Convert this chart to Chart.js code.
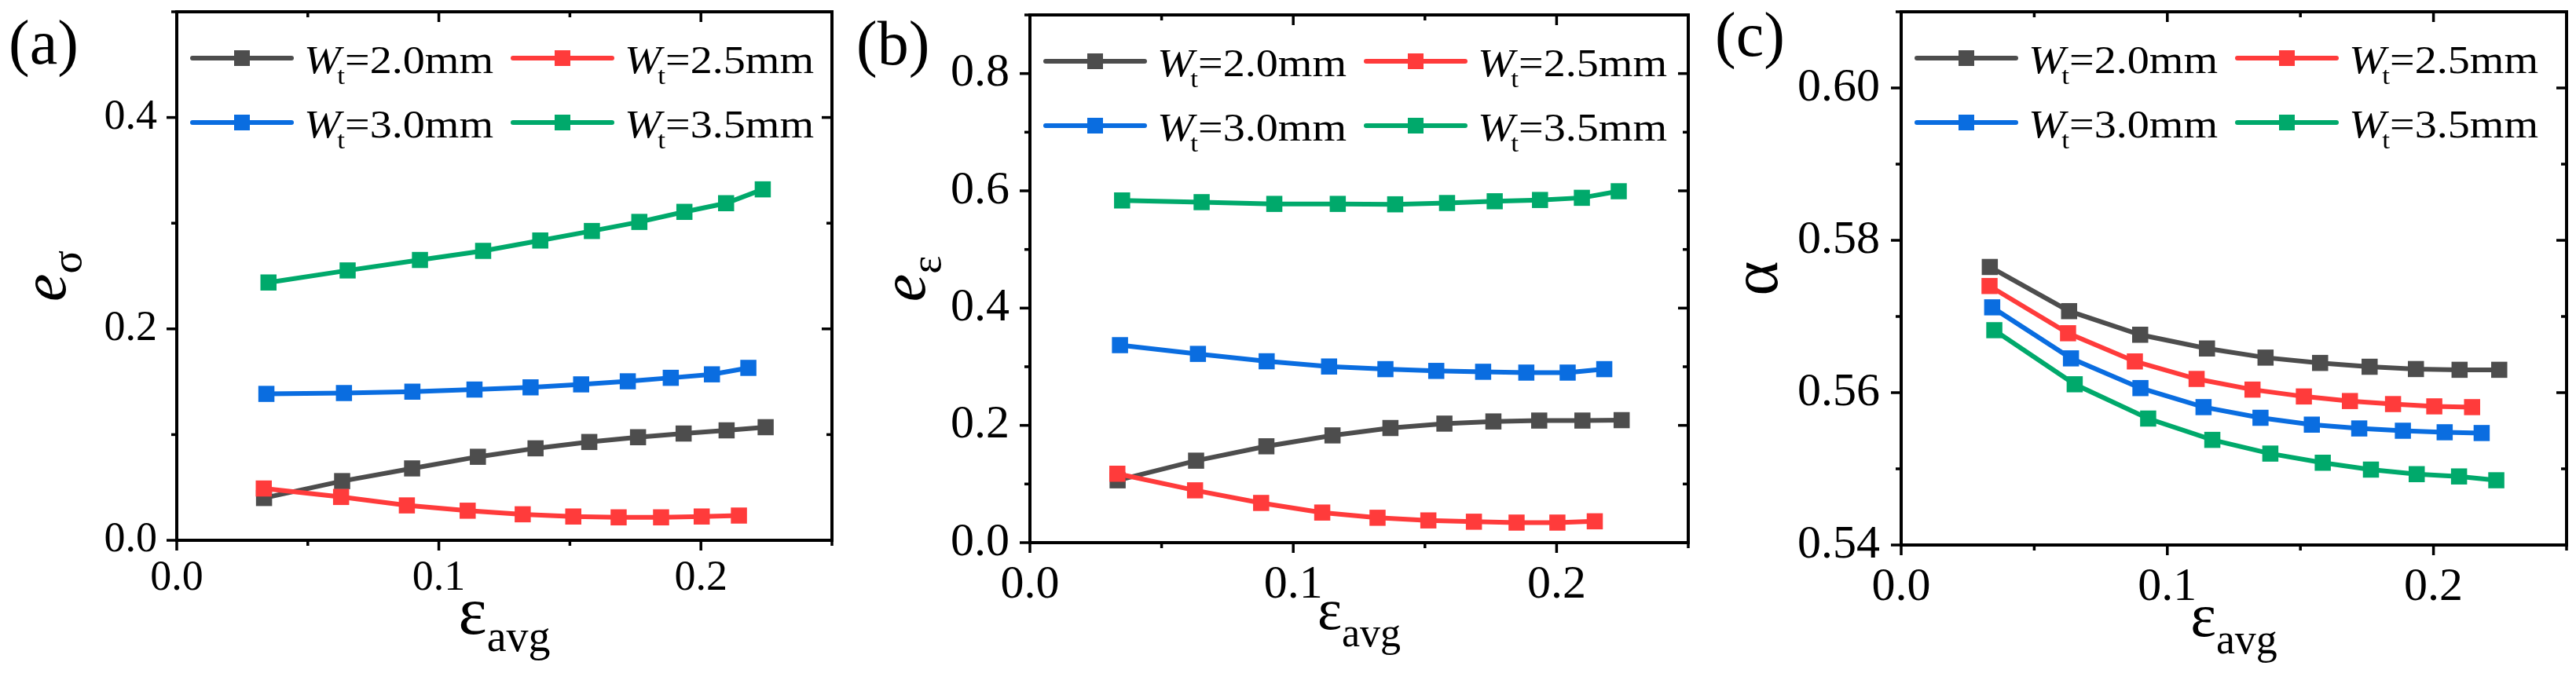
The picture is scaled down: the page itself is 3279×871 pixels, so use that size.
<!DOCTYPE html>
<html>
<head>
<meta charset="utf-8">
<script src="https://cdn.jsdelivr.net/npm/chart.js@4.4.1/dist/chart.umd.min.js"></script>
<style>
  html, body { margin: 0; padding: 0; background: #fff; }
  #wrap { position: relative; width: 3279px; height: 871px; overflow: hidden; }
  canvas { position: absolute; top: 0; }
</style>
</head>
<body>
<div id="wrap">
  <canvas id="chartA" width="1090" height="871" style="left:0px"></canvas>
  <canvas id="chartB" width="1090" height="871" style="left:1090px"></canvas>
  <canvas id="chartC" width="1099" height="871" style="left:2180px"></canvas>
</div>
<script>
// series names (tooth width W_t)
const widthLabels = ['2.0mm', '2.5mm', '3.0mm', '3.5mm'];
const seriesColors = ['#4d4d4d', '#ff3b3b', '#0a6de0', '#00a96b'];

// average strain of each point, per series
const xW20 = [0.0333, 0.0631, 0.0898, 0.1149, 0.1369, 0.1574, 0.1760, 0.1934, 0.2098, 0.2247];
const xW25 = [0.0332, 0.0627, 0.0878, 0.1110, 0.1320, 0.1513, 0.1686, 0.1848, 0.2003, 0.2145];
const xW30 = [0.0342, 0.0638, 0.0899, 0.1136, 0.1350, 0.1543, 0.1721, 0.1885, 0.2042, 0.2181];
const xW35 = [0.0350, 0.0652, 0.0928, 0.1169, 0.1387, 0.1584, 0.1765, 0.1937, 0.2096, 0.2236];

// (a) e_sigma
const eSigW20 = [0.040, 0.056, 0.068, 0.079, 0.087, 0.093, 0.0975, 0.101, 0.104, 0.107];
const eSigW25 = [0.049, 0.041, 0.033, 0.028, 0.0246, 0.0225, 0.0217, 0.0217, 0.0225, 0.0234];
const eSigW30 = [0.1385, 0.1393, 0.1406, 0.1426, 0.1447, 0.1475, 0.1504, 0.1537, 0.1570, 0.1631];
const eSigW35 = [0.2439, 0.2553, 0.2652, 0.2738, 0.2836, 0.2926, 0.3012, 0.3107, 0.3189, 0.3320];

// (b) e_epsilon
const eEpsW20 = [0.1063, 0.1398, 0.1643, 0.1829, 0.1955, 0.2030, 0.2067, 0.2082, 0.2082, 0.2089];
const eEpsW25 = [0.1175, 0.0892, 0.0677, 0.0513, 0.0424, 0.0379, 0.0357, 0.0342, 0.0342, 0.0364];
const eEpsW30 = [0.3368, 0.3219, 0.3093, 0.3004, 0.2959, 0.2929, 0.2914, 0.2900, 0.2900, 0.2959];
const eEpsW35 = [0.5836, 0.5807, 0.5777, 0.5777, 0.5770, 0.5792, 0.5822, 0.5844, 0.5881, 0.5993];

// (c) alpha
const alphaW20 = [0.5765, 0.5707, 0.5676, 0.5658, 0.5646, 0.5639, 0.5634, 0.5631, 0.5630, 0.5630];
const alphaW25 = [0.5740, 0.5678, 0.5641, 0.5618, 0.5604, 0.5595, 0.5589, 0.5585, 0.5582, 0.5581];
const alphaW30 = [0.5712, 0.5645, 0.5606, 0.5581, 0.5567, 0.5558, 0.5553, 0.5550, 0.5548, 0.5547];
const alphaW35 = [0.5682, 0.5611, 0.5566, 0.5538, 0.5520, 0.5508, 0.5499, 0.5493, 0.5490, 0.5485];

// tick positions (major + minor) and the labels of the major ones
const xTicks = [0, 0.05, 0.1, 0.15, 0.2, 0.25];
const xTickLabels = ['0.0', '0.1', '0.2'];
const aTicks = [0, 0.1, 0.2, 0.3, 0.4, 0.5];
const aTickLabels = ['0.0', '0.2', '0.4'];
const bTicks = [0, 0.1, 0.2, 0.3, 0.4, 0.5, 0.6, 0.7, 0.8, 0.9];
const bTickLabels = ['0.0', '0.2', '0.4', '0.6', '0.8'];
const cTicks = [0.54, 0.55, 0.56, 0.57, 0.58, 0.59, 0.60, 0.61];
const cTickLabels = ['0.54', '0.56', '0.58', '0.60'];

const xSets = [xW20, xW25, xW30, xW35];
const SERIF = '"Liberation Serif", "Times New Roman", serif';
Chart.defaults.font.family = SERIF;
Chart.defaults.color = '#000';

function toPoints(xs, ys) {
  return xs.map((x, i) => ({x: x, y: ys[i]}));
}

function makeDatasets(ySets) {
  return ySets.map((ys, i) => ({
    label: 'Wt=' + widthLabels[i],
    data: toPoints(xSets[i], ys),
    borderColor: seriesColors[i],
    backgroundColor: seriesColors[i],
    pointBackgroundColor: seriesColors[i],
    pointBorderWidth: 0,
    pointStyle: 'rect',
    pointRadius: 14.5,
    borderWidth: 6,
    tension: 0,
    order: 3 - i
  }));
}

function labelFrom(list) {
  return v => list.find(s => Math.abs(parseFloat(s) - v) < 1e-9) || '';
}

function fixedTicks(values) {
  return s => { s.ticks = values.map(v => ({value: v})); };
}

function line(ctx, x1, y1, x2, y2) {
  ctx.beginPath(); ctx.moveTo(x1, y1); ctx.lineTo(x2, y2); ctx.stroke();
}

// frame, ticks, legend, titles drawn on top of the library's chart
const decor = {
  id: 'decor',
  afterDraw(chart, args, o) {
    const {ctx, chartArea: a, scales: {x, y}} = chart;
    ctx.save();
    ctx.strokeStyle = '#000';
    ctx.fillStyle = '#000';
    ctx.lineWidth = 4;
    ctx.strokeRect(a.left, a.top, a.right - a.left, a.bottom - a.top);

    ctx.lineWidth = 3.5;
    x.ticks.forEach(t => {
      const px = x.getPixelForValue(t.value);
      const len = t.label ? 13 : 7;
      line(ctx, px, a.bottom, px, a.bottom + len);
      line(ctx, px, a.top, px, a.top + len);
    });
    y.ticks.forEach(t => {
      const py = y.getPixelForValue(t.value);
      const len = t.label ? 13 : 7;
      line(ctx, a.left - len, py, a.left, py);
      line(ctx, a.right - len, py, a.right, py);
    });

    // legend (2 x 2)
    chart.data.datasets.forEach((ds, i) => {
      const col = i % 2, row = Math.floor(i / 2);
      const lx = a.left + 20 + col * 408;
      const ly = a.top + 59 + row * 82;
      ctx.strokeStyle = ds.borderColor;
      ctx.lineWidth = 6;
      ctx.lineCap = 'round';
      line(ctx, lx, ly, lx + 126, ly);
      ctx.fillStyle = ds.borderColor;
      ctx.fillRect(lx + 63 - 10, ly - 10, 20, 20);

      ctx.save();
      ctx.fillStyle = '#000';
      ctx.translate(lx + 142, ly + 19);
      ctx.scale(1.1, 1);
      ctx.textAlign = 'left';
      ctx.textBaseline = 'alphabetic';
      ctx.font = 'italic 51px ' + SERIF;
      ctx.fillText('W', 0, 0);
      let cx = ctx.measureText('W').width - 4;
      ctx.font = '32px ' + SERIF;
      ctx.fillText('t', cx, 14);
      cx += ctx.measureText('t').width;
      ctx.font = '51px ' + SERIF;
      ctx.fillText('=' + widthLabels[i], cx, 0);
      ctx.restore();
    });

    ctx.fillStyle = '#000';
    ctx.textAlign = 'left';
    ctx.textBaseline = 'alphabetic';

    // panel label
    ctx.font = '80px ' + SERIF;
    ctx.fillText(o.panel, o.panelX, o.panelY);

    // x title: epsilon_avg
    const epsFont = o.xFont + 'px ' + SERIF;
    const avgFont = o.xSubFont + 'px ' + SERIF;
    ctx.font = epsFont;
    const w1 = ctx.measureText('ε').width;
    ctx.font = avgFont;
    const w2 = ctx.measureText('avg').width;
    const sx = (a.left + a.right) / 2 - (w1 + w2) / 2;
    ctx.font = epsFont;
    ctx.fillText('ε', sx, a.bottom + o.xBase);
    ctx.font = avgFont;
    ctx.fillText('avg', sx + w1, a.bottom + o.xBase + 22);

    // y title (rotated)
    ctx.save();
    ctx.translate(a.left - o.yOffset, (a.top + a.bottom) / 2);
    ctx.rotate(-Math.PI / 2);
    const mainFont = (o.yItalic ? 'italic ' : '') + o.yFont + 'px ' + SERIF;
    const subFont = '55px ' + SERIF;
    ctx.font = mainFont;
    const m1 = ctx.measureText(o.yMain).width;
    ctx.font = subFont;
    const m2 = o.ySub ? ctx.measureText(o.ySub).width : 0;
    const start = -(m1 + m2) / 2;
    ctx.font = mainFont;
    ctx.fillText(o.yMain, start, 0);
    if (o.ySub) {
      ctx.font = subFont;
      ctx.fillText(o.ySub, start + m1, 20);
    }
    ctx.restore();
    ctx.restore();
  }
};

function makeChart(id, ySets, p) {
  const canvas = document.getElementById(id);
  return new Chart(canvas, {
    type: 'line',
    data: {datasets: makeDatasets(ySets)},
    plugins: [decor],
    options: {
      responsive: false,
      devicePixelRatio: 1,
      animation: false,
      events: [],
      layout: {
        autoPadding: false,
        padding: {left: 0, top: p.top, right: canvas.width - p.right, bottom: 0}
      },
      plugins: {
        legend: {display: false},
        tooltip: {enabled: false},
        decor: p
      },
      scales: {
        x: {
          type: 'linear',
          min: 0, max: 0.25,
          grid: {display: false, drawTicks: false},
          border: {display: false},
          afterBuildTicks: fixedTicks(xTicks),
          ticks: {
            autoSkip: false,
            maxRotation: 0, minRotation: 0,
            padding: p.xPad,
            font: {size: p.tickFont},
            callback: labelFrom(xTickLabels)
          },
          afterFit(s) {
            s.height = canvas.height - p.bottom;
            s.paddingLeft = 0; s.paddingRight = 0;
          }
        },
        y: {
          type: 'linear',
          min: p.yTicks[0], max: p.yTicks[p.yTicks.length - 1],
          grid: {display: false, drawTicks: false},
          border: {display: false},
          afterBuildTicks: fixedTicks(p.yTicks),
          ticks: {
            autoSkip: false,
            padding: p.yPad,
            font: {size: p.tickFont},
            callback: labelFrom(p.yLabels)
          },
          afterFit(s) {
            s.width = p.left;
            s.paddingTop = 0; s.paddingBottom = 0;
          }
        }
      }
    }
  });
}

makeChart('chartA', [eSigW20, eSigW25, eSigW30, eSigW35], {
  left: 225, top: 15, right: 1059, bottom: 688,
  yTicks: aTicks, yLabels: aTickLabels,
  tickFont: 54, xPad: 16, yPad: 25,
  panel: '(a)', panelX: 11, panelY: 81,
  xFont: 86, xSubFont: 56, xBase: 119,
  yMain: 'e', ySub: 'σ', yItalic: true, yFont: 80, yOffset: 142
});

makeChart('chartB', [eEpsW20, eEpsW25, eEpsW30, eEpsW35], {
  left: 221, top: 19, right: 1059, bottom: 691,
  yTicks: bTicks, yLabels: bTickLabels,
  tickFont: 60, xPad: 18, yPad: 26,
  panel: '(b)', panelX: 0, panelY: 82,
  xFont: 74, xSubFont: 52, xBase: 110,
  yMain: 'e', ySub: 'ε', yItalic: true, yFont: 80, yOffset: 134
});

makeChart('chartC', [alphaW20, alphaW25, alphaW30, alphaW35], {
  left: 240, top: 15, right: 1087, bottom: 694,
  yTicks: cTicks, yLabels: cTickLabels,
  tickFont: 60, xPad: 18, yPad: 27,
  panel: '(c)', panelX: 3, panelY: 71,
  xFont: 78, xSubFont: 54, xBase: 116,
  yMain: 'α', ySub: '', yItalic: false, yFont: 84, yOffset: 158
});
</script>
</body>
</html>
